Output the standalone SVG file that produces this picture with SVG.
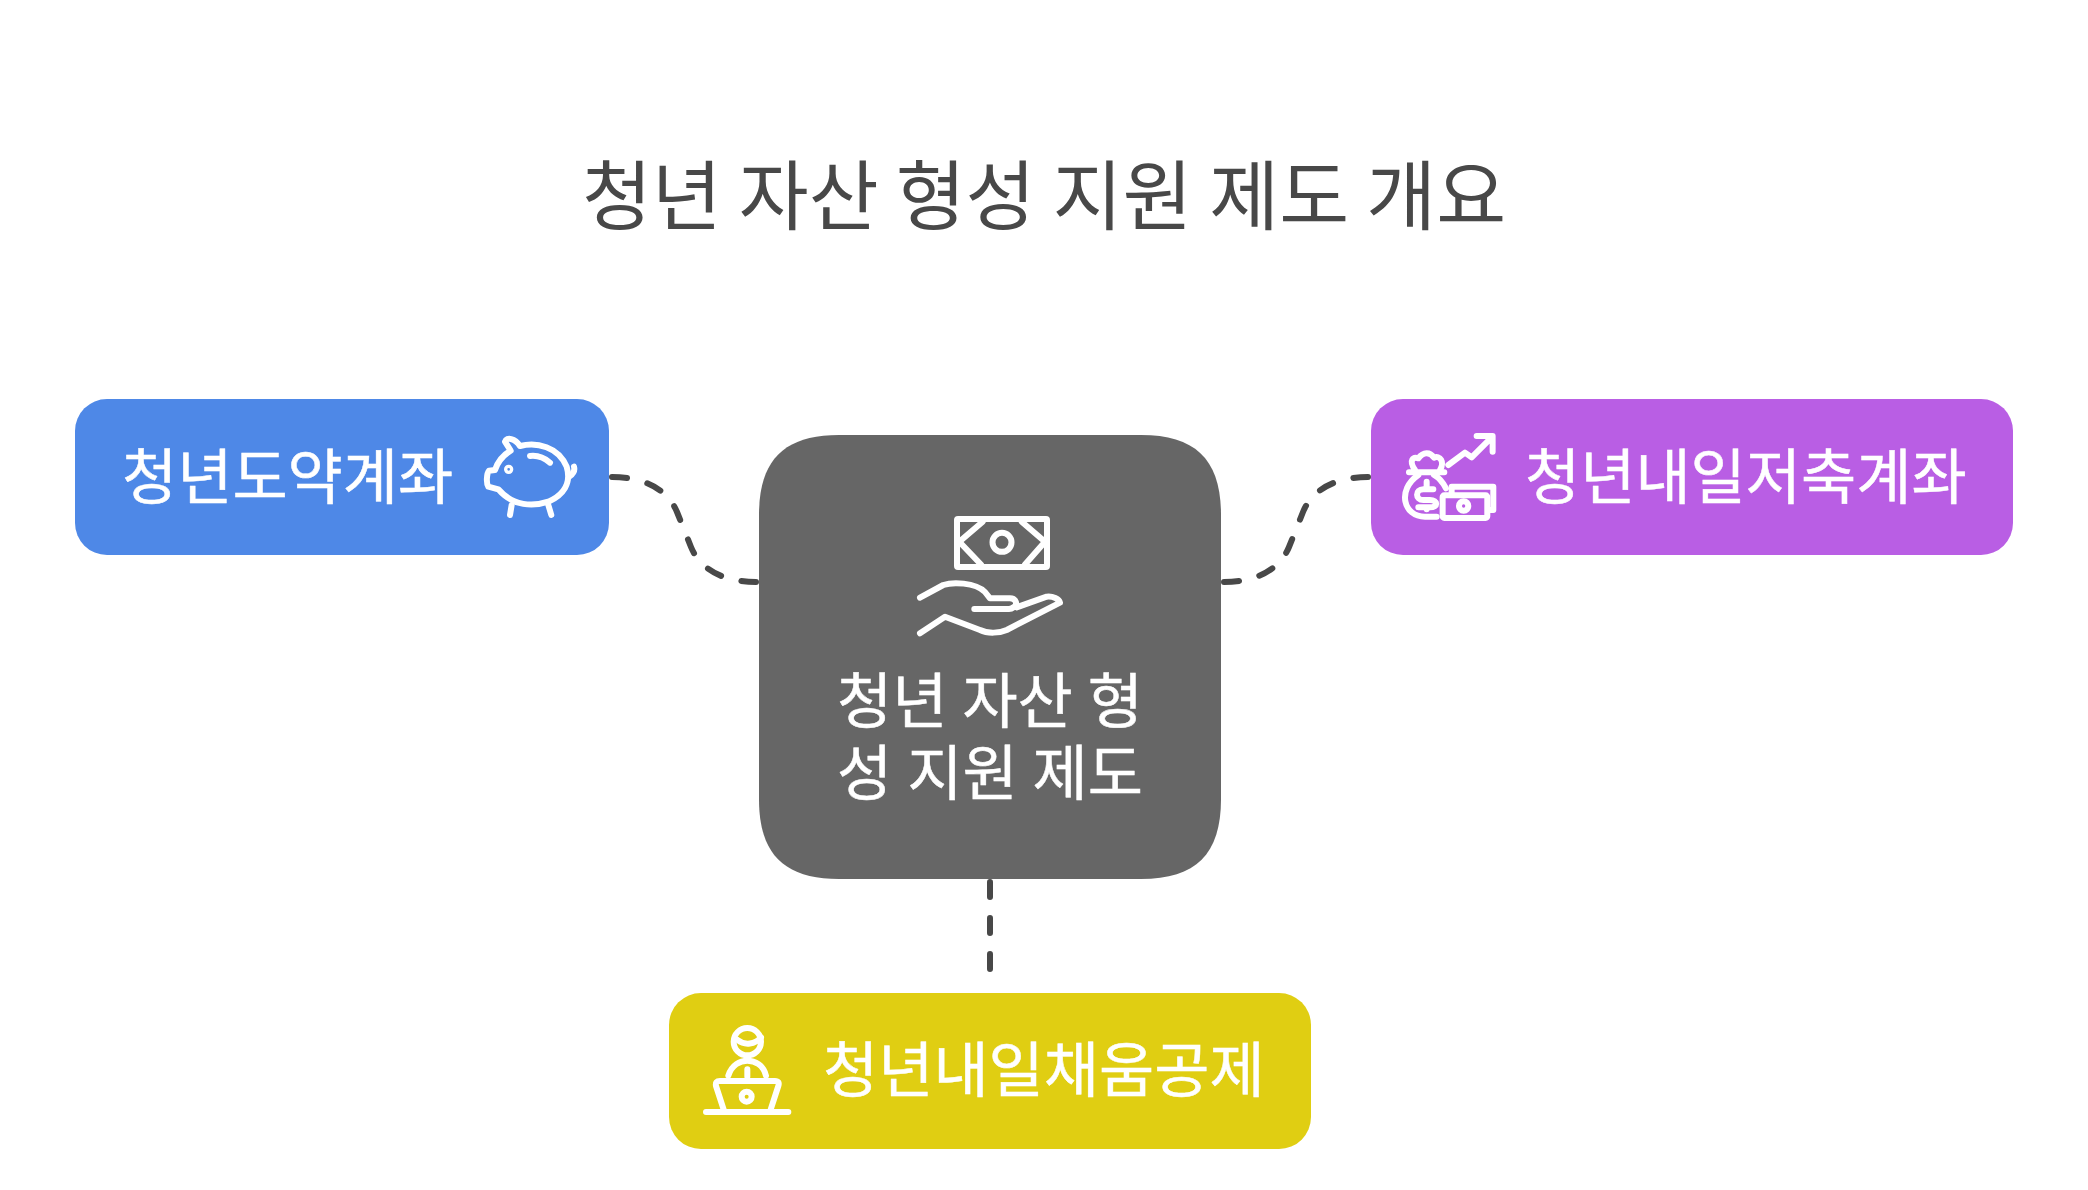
<svg xmlns="http://www.w3.org/2000/svg" width="2088" height="1190" viewBox="0 0 2088 1190">
<style>
text{font-family:"Noto Sans CJK KR","Noto Sans",sans-serif;fill:#fff;font-size:60px;stroke:#fff;stroke-width:.5px}
.t{fill:#484848;stroke:none;font-size:76px}
.m{word-spacing:1.5px}
.c{fill:none;stroke:#484848;stroke-width:6;stroke-linecap:round;stroke-dasharray:15 21}
.i{fill:none;stroke:#fff;stroke-linecap:round;stroke-linejoin:round}
</style>
<rect width="2088" height="1190" fill="#fff"/>
<text id="title" class="t" x="1044" y="224" text-anchor="middle">청년 자산 형성 지원 제도 개요</text>
<g id="connectors">
<path class="c" d="M612 477C645 477 668 490 677 512L691 547C700 569 723 582 756 582"/>
<path class="c" d="M1224 582C1257 582 1280 569 1289 547L1303 512C1312 490 1335 477 1368 477"/>
<path class="c" d="M990 882V972"/>
</g>
<g id="center">
<path d="M759 515C759 460 784 435 839 435H1141C1196 435 1221 460 1221 515V799C1221 854 1196 879 1141 879H839C784 879 759 854 759 799Z" fill="#666"/>
<g class="i" stroke-width="6">
<rect x="957" y="519" width="90" height="48" rx="1"/>
<path d="M982.7 521.7L959.3 541.7L981 564.5M1021.7 521.7L1045 541.7L1025 564.5"/>
<circle cx="1002" cy="542.3" r="9.5"/>
<path d="M920 597.7L943.3 585C952 582 975 582 985 592L990 598.3H1010C1016 598.5 1018 604 1014 607C1012 608.5 1011 609 1009 609H974.3"/>
<path d="M1016.7 607.3L1046.7 596.7C1053 596 1059 599 1060 602.7L1006.7 630C1000 633 988 634 980 630L945 616.7L920 633.3"/>
</g>
<text class="m" x="990" y="723" text-anchor="middle">청년 자산 형</text>
<text class="m" x="990" y="795" text-anchor="middle">성 지원 제도</text>
</g>
<g id="blue">
<rect x="75" y="399" width="534" height="156" rx="32" fill="#4E88E7"/>
<text x="122" y="499">청년도약계좌</text>
<g class="i" stroke-width="18" transform="translate(470 420) scale(.3333)">
<path d="M150 78C200 65 265 80 290 140C305 190 280 225 235 245C190 260 130 260 85 208L55 200C48 190 50 160 57 152L75 150C85 120 100 105 122 92L105 65C110 50 135 55 150 78Z"/>
<path d="M180 108C205 105 225 115 240 128M298 170C312 160 315 150 312 140M125 255L120 285M235 255L244 285"/>
<circle cx="116" cy="148" r="5"/>
</g>
</g>
<g id="purple">
<rect x="1371" y="399" width="642" height="156" rx="32" fill="#B95EE4"/>
<g class="i" stroke-width="18" transform="translate(1210 420) scale(.3333)">
<path d="M715 135L765 98L785 112L845 52M800 48H848V95"/>
<path d="M615 150C595 120 610 110 625 115C640 95 660 95 672 113C690 105 705 125 690 150M597 157H703"/>
<path d="M625 165C560 210 580 290 645 290H680M672 165C690 175 700 190 708 205"/>
<path d="M670 208H640C615 208 615 240 640 240H660C685 240 685 262 660 262H625M650 185V205M650 262V268"/>
<rect x="698" y="226" width="134" height="68" rx="5"/>
<path d="M725 224V200H850V270H835"/>
<circle cx="761" cy="258" r="14"/>
</g>
<text x="1525" y="499">청년내일저축계좌</text>
</g>
<g id="yellow">
<rect x="669" y="993" width="642" height="156" rx="32" fill="#E0CE12"/>
<g class="i" stroke-width="18" transform="translate(690 1010) scale(.3333)">
<circle cx="172" cy="95" r="41"/>
<path d="M143 90C165 108 195 103 213 82"/>
<path d="M115 197C125 165 150 152 172 152C195 152 220 165 228 197M172 178V200"/>
<path d="M103 305L78 228Q75 213 90 213H255Q270 213 265 228L240 305M48 306H295"/>
<circle cx="170" cy="260" r="15"/>
</g>
<text x="823" y="1092">청년내일채움공제</text>
</g>
</svg>
